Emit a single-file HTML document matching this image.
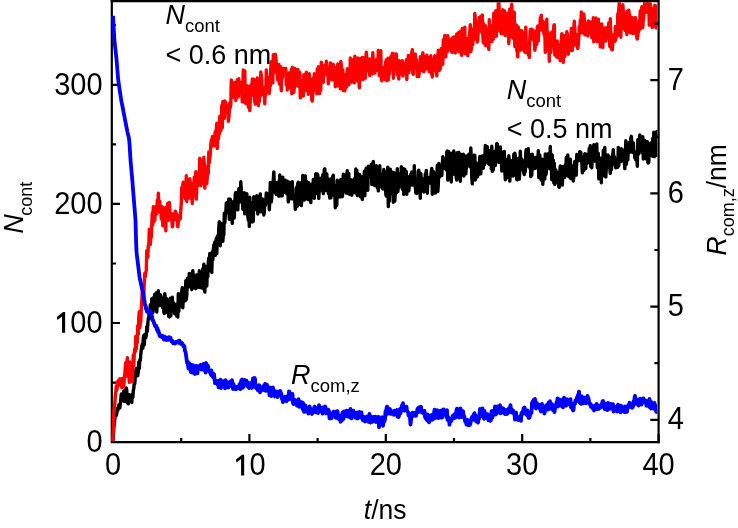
<!DOCTYPE html>
<html><head><meta charset="utf-8"><style>
html,body{margin:0;padding:0;background:#fff;width:738px;height:528px;overflow:hidden}
svg{display:block;font-family:"Liberation Sans",sans-serif;will-change:transform}
</style></head><body>
<svg width="738" height="528" viewBox="0 0 738 528">
<path d="M111.8 0 V442.1 H659.7 M111.8 442.1 H120 M111.8 323.0 H120 M111.8 203.9 H120 M111.8 84.8 H120 M111.8 382.6 H116 M111.8 263.5 H116 M111.8 144.4 H116 M111.8 25.2 H116 M113.0 442.1 V434 M249.4 442.1 V434 M385.8 442.1 V434 M522.2 442.1 V434 M658.6 442.1 V434 M181.2 442.1 V438 M317.6 442.1 V438 M454.0 442.1 V438 M590.4 442.1 V438" stroke="#000" stroke-width="2.2" fill="none"/>
<defs><clipPath id="pc"><rect x="109" y="2.2" width="548.3" height="439"/></clipPath></defs><g clip-path="url(#pc)">
<path d="M111.8 441.9 L112.3 441.5 L112.8 441.8 L113.3 435.0 L113.8 427.9 L114.3 423.7 L114.8 419.0 L115.3 415.9 L115.8 414.9 L116.3 415.5 L116.8 413.1 L117.3 408.2 L117.8 410.2 L118.3 408.3 L118.8 405.0 L119.3 406.3 L119.8 407.9 L120.3 404.4 L120.8 399.3 L121.3 393.9 L121.8 395.3 L122.3 395.0 L122.8 400.9 L123.3 399.4 L123.8 391.0 L124.3 401.5 L124.8 394.0 L125.3 397.0 L125.8 389.0 L126.3 388.1 L126.8 390.8 L127.3 402.9 L127.8 400.3 L128.3 403.8 L128.8 398.0 L129.3 394.7 L129.8 397.1 L130.3 399.0 L130.8 400.6 L131.3 395.2 L131.8 402.5 L132.3 394.2 L132.8 397.7 L133.3 390.4 L133.8 388.5 L134.3 382.2 L134.8 383.7 L135.3 376.0 L135.8 370.4 L136.3 368.5 L136.8 376.0 L137.3 371.1 L137.8 375.5 L138.3 371.2 L138.8 361.9 L139.3 368.3 L139.8 359.9 L140.3 360.3 L140.8 354.2 L141.3 349.5 L141.8 346.3 L142.3 344.0 L142.8 348.3 L143.3 337.9 L143.8 335.6 L144.3 344.9 L144.8 334.5 L145.3 336.4 L145.8 337.7 L146.3 335.2 L146.8 326.7 L147.3 331.4 L147.8 323.6 L148.3 318.3 L148.8 317.5 L149.3 312.2 L149.8 318.1 L150.3 304.8 L150.8 310.6 L151.3 308.1 L151.8 298.8 L152.3 302.1 L152.8 312.7 L153.3 309.7 L153.8 297.2 L154.3 298.5 L154.8 294.1 L155.3 309.5 L155.8 295.4 L156.3 293.0 L156.8 312.0 L157.3 299.6 L157.8 298.6 L158.3 290.6 L158.8 299.9 L159.3 297.3 L159.8 305.6 L160.3 294.8 L160.8 295.7 L161.3 297.4 L161.8 301.1 L162.3 298.8 L162.8 307.6 L163.3 300.1 L163.8 311.7 L164.3 313.5 L164.8 293.6 L165.3 299.2 L165.8 307.8 L166.3 312.2 L166.8 298.6 L167.3 301.4 L167.8 304.7 L168.3 311.7 L168.8 316.6 L169.3 316.9 L169.8 311.5 L170.3 298.3 L170.8 315.8 L171.3 308.8 L171.8 298.1 L172.3 297.3 L172.8 305.4 L173.3 304.2 L173.8 303.0 L174.3 311.1 L174.8 313.9 L175.3 306.8 L175.8 312.9 L176.3 304.4 L176.8 316.3 L177.3 309.0 L177.8 317.0 L178.3 293.8 L178.8 311.4 L179.3 304.1 L179.8 305.8 L180.3 295.8 L180.8 299.8 L181.3 294.0 L181.8 290.7 L182.3 287.8 L182.8 307.7 L183.3 298.1 L183.8 288.1 L184.3 288.0 L184.8 292.2 L185.3 300.8 L185.8 280.6 L186.3 299.5 L186.8 295.0 L187.3 278.4 L187.8 287.4 L188.3 278.9 L188.8 287.0 L189.3 273.4 L189.8 281.6 L190.3 284.2 L190.8 283.1 L191.3 284.9 L191.8 289.5 L192.3 274.7 L192.8 270.7 L193.3 279.1 L193.8 282.0 L194.3 287.8 L194.8 283.1 L195.3 286.5 L195.8 288.7 L196.3 274.9 L196.8 275.1 L197.3 278.7 L197.8 274.9 L198.3 282.5 L198.8 287.4 L199.3 270.7 L199.8 282.4 L200.3 280.6 L200.8 277.6 L201.3 287.9 L201.8 282.8 L202.3 288.0 L202.8 268.6 L203.3 271.7 L203.8 264.3 L204.3 288.8 L204.8 292.1 L205.3 266.1 L205.8 286.7 L206.3 282.0 L206.8 285.9 L207.3 270.2 L207.8 276.6 L208.3 262.4 L208.8 257.9 L209.3 270.8 L209.8 253.4 L210.3 267.7 L210.8 256.7 L211.3 263.8 L211.8 272.5 L212.3 251.7 L212.8 259.8 L213.3 250.1 L213.8 244.8 L214.3 249.7 L214.8 242.0 L215.3 255.3 L215.8 247.9 L216.3 238.3 L216.8 253.6 L217.3 236.2 L217.8 239.8 L218.3 238.9 L218.8 228.0 L219.3 221.7 L219.8 242.9 L220.3 245.8 L220.8 224.5 L221.3 223.6 L221.8 230.7 L222.3 230.6 L222.8 241.3 L223.3 235.0 L223.8 234.9 L224.3 213.3 L224.8 222.9 L225.3 215.1 L225.8 213.0 L226.3 203.0 L226.8 207.3 L227.3 211.6 L227.8 202.1 L228.3 207.1 L228.8 198.9 L229.3 219.3 L229.8 208.4 L230.3 199.2 L230.8 206.7 L231.3 208.9 L231.8 217.5 L232.3 223.4 L232.8 202.3 L233.3 208.5 L233.8 201.1 L234.3 218.0 L234.8 203.7 L235.3 193.8 L235.8 192.5 L236.3 196.9 L236.8 197.7 L237.3 199.0 L237.8 209.9 L238.3 196.9 L238.8 188.8 L239.3 195.7 L239.8 188.0 L240.3 201.9 L240.8 181.8 L241.3 190.7 L241.8 195.2 L242.3 194.0 L242.8 209.2 L243.3 194.6 L243.8 198.2 L244.3 192.6 L244.8 213.9 L245.3 206.4 L245.8 213.5 L246.3 201.2 L246.8 193.6 L247.3 201.9 L247.8 215.9 L248.3 220.1 L248.8 202.1 L249.3 226.4 L249.8 197.1 L250.3 211.4 L250.8 207.8 L251.3 207.8 L251.8 202.7 L252.3 222.0 L252.8 203.7 L253.3 221.2 L253.8 196.7 L254.3 207.0 L254.8 203.2 L255.3 209.6 L255.8 205.4 L256.3 207.0 L256.8 195.8 L257.3 200.3 L257.8 214.0 L258.3 198.8 L258.8 203.2 L259.3 200.4 L259.8 196.5 L260.3 194.0 L260.8 211.9 L261.3 209.7 L261.8 199.0 L262.3 198.9 L262.8 211.2 L263.3 205.4 L263.8 215.0 L264.3 212.1 L264.8 199.9 L265.3 205.5 L265.8 201.2 L266.3 193.0 L266.8 198.6 L267.3 202.9 L267.8 193.9 L268.3 196.7 L268.8 193.6 L269.3 209.7 L269.8 201.4 L270.3 182.4 L270.8 201.5 L271.3 201.8 L271.8 197.3 L272.3 183.5 L272.8 186.3 L273.3 180.1 L273.8 171.9 L274.3 184.8 L274.8 191.8 L275.3 192.9 L275.8 189.3 L276.3 194.6 L276.8 187.5 L277.3 182.5 L277.8 190.1 L278.3 182.6 L278.8 196.3 L279.3 184.1 L279.8 175.0 L280.3 194.6 L280.8 178.1 L281.3 195.9 L281.8 186.2 L282.3 195.8 L282.8 177.2 L283.3 188.2 L283.8 188.9 L284.3 182.6 L284.8 192.3 L285.3 180.2 L285.8 186.7 L286.3 190.0 L286.8 193.9 L287.3 181.3 L287.8 188.4 L288.3 201.9 L288.8 199.2 L289.3 193.2 L289.8 182.1 L290.3 194.5 L290.8 187.8 L291.3 188.1 L291.8 198.9 L292.3 181.7 L292.8 197.9 L293.3 195.9 L293.8 198.3 L294.3 199.3 L294.8 201.0 L295.3 209.3 L295.8 207.1 L296.3 188.1 L296.8 187.0 L297.3 206.3 L297.8 183.4 L298.3 182.2 L298.8 202.0 L299.3 204.3 L299.8 203.1 L300.3 188.9 L300.8 182.9 L301.3 205.5 L301.8 199.8 L302.3 193.6 L302.8 175.5 L303.3 180.4 L303.8 176.9 L304.3 200.0 L304.8 179.2 L305.3 176.0 L305.8 185.9 L306.3 181.3 L306.8 191.6 L307.3 198.7 L307.8 199.4 L308.3 182.4 L308.8 199.8 L309.3 186.0 L309.8 191.8 L310.3 184.2 L310.8 202.6 L311.3 184.5 L311.8 194.8 L312.3 191.5 L312.8 193.9 L313.3 179.4 L313.8 187.2 L314.3 198.3 L314.8 186.7 L315.3 181.0 L315.8 173.8 L316.3 182.3 L316.8 193.2 L317.3 173.9 L317.8 175.1 L318.3 190.8 L318.8 198.4 L319.3 184.9 L319.8 191.2 L320.3 180.5 L320.8 178.3 L321.3 187.1 L321.8 177.8 L322.3 183.8 L322.8 174.6 L323.3 193.6 L323.8 183.3 L324.3 169.4 L324.8 168.9 L325.3 190.5 L325.8 183.4 L326.3 177.4 L326.8 174.0 L327.3 189.7 L327.8 187.5 L328.3 193.3 L328.8 179.2 L329.3 193.7 L329.8 198.0 L330.3 197.9 L330.8 197.9 L331.3 189.5 L331.8 178.3 L332.3 195.1 L332.8 176.3 L333.3 175.3 L333.8 189.8 L334.3 185.1 L334.8 192.9 L335.3 207.7 L335.8 185.8 L336.3 200.7 L336.8 205.2 L337.3 180.1 L337.8 188.9 L338.3 195.5 L338.8 196.7 L339.3 181.5 L339.8 197.0 L340.3 183.6 L340.8 179.5 L341.3 189.2 L341.8 188.8 L342.3 196.7 L342.8 191.9 L343.3 174.3 L343.8 191.1 L344.3 179.6 L344.8 189.5 L345.3 174.9 L345.8 184.8 L346.3 193.1 L346.8 174.1 L347.3 170.7 L347.8 193.4 L348.3 192.8 L348.8 173.4 L349.3 194.3 L349.8 179.2 L350.3 183.1 L350.8 182.3 L351.3 179.9 L351.8 195.3 L352.3 183.6 L352.8 190.9 L353.3 184.3 L353.8 192.6 L354.3 178.7 L354.8 181.0 L355.3 185.3 L355.8 169.0 L356.3 193.2 L356.8 170.1 L357.3 195.5 L357.8 173.3 L358.3 190.9 L358.8 190.0 L359.3 185.8 L359.8 174.8 L360.3 196.7 L360.8 180.3 L361.3 181.3 L361.8 189.9 L362.3 199.5 L362.8 176.4 L363.3 180.7 L363.8 188.0 L364.3 171.3 L364.8 195.7 L365.3 182.7 L365.8 169.7 L366.3 168.2 L366.8 168.2 L367.3 182.1 L367.8 190.2 L368.3 166.3 L368.8 169.5 L369.3 171.4 L369.8 176.1 L370.3 172.4 L370.8 172.9 L371.3 164.3 L371.8 184.4 L372.3 173.0 L372.8 184.3 L373.3 161.4 L373.8 172.4 L374.3 171.0 L374.8 185.6 L375.3 182.9 L375.8 177.3 L376.3 165.8 L376.8 181.2 L377.3 187.6 L377.8 184.8 L378.3 190.9 L378.8 178.0 L379.3 173.9 L379.8 165.7 L380.3 186.4 L380.8 184.4 L381.3 182.4 L381.8 187.3 L382.3 173.9 L382.8 189.0 L383.3 183.9 L383.8 169.4 L384.3 181.6 L384.8 182.8 L385.3 172.0 L385.8 194.0 L386.3 196.1 L386.8 174.6 L387.3 177.9 L387.8 167.1 L388.3 206.6 L388.8 180.6 L389.3 201.2 L389.8 188.2 L390.3 169.1 L390.8 176.8 L391.3 178.5 L391.8 193.5 L392.3 175.8 L392.8 172.3 L393.3 202.2 L393.8 188.1 L394.3 173.0 L394.8 201.1 L395.3 192.4 L395.8 183.3 L396.3 173.9 L396.8 192.4 L397.3 168.8 L397.8 191.7 L398.3 187.5 L398.8 184.9 L399.3 184.3 L399.8 183.5 L400.3 173.5 L400.8 186.3 L401.3 166.7 L401.8 184.6 L402.3 189.1 L402.8 172.1 L403.3 168.8 L403.8 194.4 L404.3 191.3 L404.8 169.1 L405.3 184.8 L405.8 173.8 L406.3 171.7 L406.8 194.2 L407.3 183.6 L407.8 186.8 L408.3 176.7 L408.8 190.8 L409.3 185.2 L409.8 179.2 L410.3 180.7 L410.8 174.3 L411.3 184.8 L411.8 171.9 L412.3 177.7 L412.8 185.1 L413.3 184.2 L413.8 181.2 L414.3 165.6 L414.8 185.3 L415.3 185.6 L415.8 193.0 L416.3 192.7 L416.8 193.4 L417.3 180.4 L417.8 185.7 L418.3 171.5 L418.8 170.3 L419.3 191.4 L419.8 189.9 L420.3 198.2 L420.8 173.4 L421.3 179.0 L421.8 190.2 L422.3 183.4 L422.8 190.7 L423.3 178.9 L423.8 192.0 L424.3 189.7 L424.8 191.2 L425.3 173.7 L425.8 189.3 L426.3 170.4 L426.8 178.5 L427.3 193.2 L427.8 183.0 L428.3 183.7 L428.8 177.8 L429.3 180.1 L429.8 180.0 L430.3 183.1 L430.8 177.5 L431.3 171.8 L431.8 168.4 L432.3 194.2 L432.8 181.9 L433.3 171.5 L433.8 173.3 L434.3 181.8 L434.8 173.0 L435.3 193.1 L435.8 182.5 L436.3 187.0 L436.8 181.7 L437.3 165.3 L437.8 191.5 L438.3 185.2 L438.8 163.4 L439.3 177.4 L439.8 175.8 L440.3 169.5 L440.8 170.8 L441.3 166.8 L441.8 175.5 L442.3 164.9 L442.8 156.6 L443.3 164.8 L443.8 158.6 L444.3 168.3 L444.8 168.0 L445.3 162.8 L445.8 162.0 L446.3 169.8 L446.8 151.8 L447.3 151.0 L447.8 180.1 L448.3 159.4 L448.8 151.6 L449.3 171.1 L449.8 178.7 L450.3 155.8 L450.8 164.4 L451.3 182.0 L451.8 153.3 L452.3 155.8 L452.8 168.6 L453.3 174.3 L453.8 151.0 L454.3 163.6 L454.8 169.7 L455.3 167.7 L455.8 166.6 L456.3 178.2 L456.8 179.9 L457.3 152.8 L457.8 156.5 L458.3 162.1 L458.8 152.5 L459.3 153.9 L459.8 167.1 L460.3 181.2 L460.8 159.1 L461.3 154.4 L461.8 169.2 L462.3 158.5 L462.8 154.7 L463.3 154.3 L463.8 176.0 L464.3 155.5 L464.8 172.7 L465.3 164.7 L465.8 173.9 L466.3 166.8 L466.8 157.3 L467.3 157.1 L467.8 155.5 L468.3 158.6 L468.8 154.1 L469.3 159.6 L469.8 166.7 L470.3 161.4 L470.8 148.0 L471.3 159.3 L471.8 177.3 L472.3 183.9 L472.8 159.8 L473.3 157.2 L473.8 158.9 L474.3 155.2 L474.8 155.2 L475.3 180.0 L475.8 176.3 L476.3 162.9 L476.8 167.5 L477.3 177.0 L477.8 174.5 L478.3 174.8 L478.8 171.7 L479.3 168.1 L479.8 156.5 L480.3 168.5 L480.8 173.8 L481.3 156.4 L481.8 156.0 L482.3 167.0 L482.8 158.2 L483.3 168.2 L483.8 155.6 L484.3 164.9 L484.8 163.3 L485.3 145.5 L485.8 149.8 L486.3 156.5 L486.8 150.4 L487.3 146.6 L487.8 154.1 L488.3 163.6 L488.8 150.5 L489.3 164.4 L489.8 158.2 L490.3 159.2 L490.8 150.2 L491.3 168.9 L491.8 146.2 L492.3 171.4 L492.8 156.3 L493.3 169.9 L493.8 153.9 L494.3 151.7 L494.8 151.2 L495.3 165.5 L495.8 155.3 L496.3 151.1 L496.8 143.5 L497.3 144.1 L497.8 151.3 L498.3 151.8 L498.8 162.4 L499.3 148.4 L499.8 156.1 L500.3 146.9 L500.8 152.9 L501.3 159.0 L501.8 171.0 L502.3 152.5 L502.8 154.9 L503.3 169.3 L503.8 160.2 L504.3 151.4 L504.8 170.0 L505.3 179.7 L505.8 171.4 L506.3 178.4 L506.8 172.3 L507.3 159.1 L507.8 172.7 L508.3 167.7 L508.8 155.7 L509.3 161.8 L509.8 181.1 L510.3 171.0 L510.8 166.7 L511.3 176.0 L511.8 174.6 L512.3 160.4 L512.8 167.4 L513.3 176.0 L513.8 154.2 L514.3 169.9 L514.8 153.1 L515.3 156.1 L515.8 174.8 L516.3 166.1 L516.8 179.7 L517.3 179.8 L517.8 173.3 L518.3 158.5 L518.8 171.2 L519.3 179.1 L519.8 170.6 L520.3 151.3 L520.8 161.7 L521.3 159.7 L521.8 159.4 L522.3 160.3 L522.8 169.8 L523.3 163.1 L523.8 172.9 L524.3 174.6 L524.8 171.6 L525.3 171.4 L525.8 152.2 L526.3 149.7 L526.8 149.8 L527.3 162.3 L527.8 158.5 L528.3 148.7 L528.8 167.0 L529.3 158.8 L529.8 154.4 L530.3 163.7 L530.8 176.6 L531.3 170.0 L531.8 175.1 L532.3 154.1 L532.8 169.3 L533.3 158.2 L533.8 157.7 L534.3 160.7 L534.8 160.8 L535.3 168.4 L535.8 157.4 L536.3 159.4 L536.8 160.1 L537.3 166.9 L537.8 162.1 L538.3 150.8 L538.8 177.6 L539.3 172.4 L539.8 154.9 L540.3 166.9 L540.8 178.8 L541.3 180.0 L541.8 166.9 L542.3 159.1 L542.8 184.2 L543.3 176.4 L543.8 174.2 L544.3 165.5 L544.8 179.0 L545.3 153.9 L545.8 174.8 L546.3 172.4 L546.8 162.3 L547.3 154.3 L547.8 167.9 L548.3 158.2 L548.8 153.4 L549.3 153.8 L549.8 168.8 L550.3 146.4 L550.8 163.5 L551.3 162.7 L551.8 179.7 L552.3 155.0 L552.8 168.1 L553.3 160.1 L553.8 182.8 L554.3 163.3 L554.8 184.4 L555.3 178.9 L555.8 170.0 L556.3 172.1 L556.8 172.3 L557.3 176.7 L557.8 182.0 L558.3 177.3 L558.8 186.8 L559.3 187.3 L559.8 171.5 L560.3 165.9 L560.8 179.2 L561.3 172.7 L561.8 166.6 L562.3 185.1 L562.8 174.7 L563.3 166.8 L563.8 169.4 L564.3 171.2 L564.8 177.2 L565.3 165.0 L565.8 170.8 L566.3 157.4 L566.8 175.4 L567.3 174.2 L567.8 155.0 L568.3 174.2 L568.8 176.8 L569.3 174.2 L569.8 175.7 L570.3 159.1 L570.8 178.6 L571.3 165.6 L571.8 176.7 L572.3 176.9 L572.8 172.0 L573.3 181.0 L573.8 176.7 L574.3 165.1 L574.8 161.4 L575.3 173.7 L575.8 164.3 L576.3 175.1 L576.8 154.5 L577.3 155.8 L577.8 159.4 L578.3 155.2 L578.8 160.7 L579.3 155.0 L579.8 151.7 L580.3 157.1 L580.8 152.3 L581.3 158.7 L581.8 161.4 L582.3 172.8 L582.8 163.1 L583.3 161.1 L583.8 170.6 L584.3 161.1 L584.8 153.8 L585.3 162.3 L585.8 168.5 L586.3 154.1 L586.8 163.7 L587.3 159.4 L587.8 159.8 L588.3 162.5 L588.8 156.8 L589.3 148.2 L589.8 148.4 L590.3 145.7 L590.8 166.7 L591.3 160.0 L591.8 167.8 L592.3 150.2 L592.8 157.4 L593.3 156.7 L593.8 144.6 L594.3 158.9 L594.8 161.2 L595.3 154.6 L595.8 154.1 L596.3 156.8 L596.8 143.9 L597.3 167.5 L597.8 155.8 L598.3 153.4 L598.8 178.9 L599.3 175.4 L599.8 166.2 L600.3 165.0 L600.8 158.2 L601.3 182.8 L601.8 162.5 L602.3 176.3 L602.8 173.1 L603.3 150.3 L603.8 154.2 L604.3 160.6 L604.8 147.4 L605.3 176.4 L605.8 177.0 L606.3 167.3 L606.8 158.8 L607.3 159.6 L607.8 154.9 L608.3 163.5 L608.8 156.1 L609.3 157.4 L609.8 168.6 L610.3 173.3 L610.8 164.8 L611.3 169.8 L611.8 166.3 L612.3 158.1 L612.8 154.1 L613.3 149.7 L613.8 161.4 L614.3 156.5 L614.8 164.4 L615.3 158.8 L615.8 167.8 L616.3 165.9 L616.8 163.4 L617.3 164.9 L617.8 167.3 L618.3 147.4 L618.8 165.8 L619.3 149.8 L619.8 161.1 L620.3 155.1 L620.8 161.6 L621.3 148.7 L621.8 160.0 L622.3 160.8 L622.8 149.9 L623.3 157.0 L623.8 155.1 L624.3 161.1 L624.8 168.6 L625.3 158.9 L625.8 140.8 L626.3 164.3 L626.8 157.7 L627.3 147.1 L627.8 160.0 L628.3 149.0 L628.8 142.6 L629.3 148.2 L629.8 152.1 L630.3 142.4 L630.8 138.4 L631.3 136.3 L631.8 142.9 L632.3 152.2 L632.8 143.9 L633.3 142.7 L633.8 152.6 L634.3 151.4 L634.8 157.9 L635.3 157.4 L635.8 159.8 L636.3 152.7 L636.8 156.8 L637.3 166.2 L637.8 139.7 L638.3 149.1 L638.8 153.9 L639.3 141.2 L639.8 134.9 L640.3 144.7 L640.8 138.0 L641.3 140.4 L641.8 139.5 L642.3 152.8 L642.8 136.8 L643.3 159.0 L643.8 154.6 L644.3 150.7 L644.8 140.4 L645.3 151.1 L645.8 145.3 L646.3 159.0 L646.8 152.5 L647.3 141.6 L647.8 162.2 L648.3 163.0 L648.8 162.1 L649.3 144.3 L649.8 151.3 L650.3 154.5 L650.8 143.0 L651.3 148.6 L651.8 148.5 L652.3 156.1 L652.8 138.2 L653.3 156.4 L653.8 132.2 L654.3 156.8 L654.8 144.0 L655.3 133.2 L655.8 135.4 L656.3 155.3 L656.8 131.4 L657.3 143.4 L657.8 144.5" stroke="#000" stroke-width="3.4" fill="none" stroke-linejoin="round"/>
<path d="M111.8 442.0 L112.3 441.8 L112.8 440.6 L113.3 429.3 L113.8 413.3 L114.3 406.8 L114.8 403.9 L115.3 395.6 L115.8 392.6 L116.3 386.0 L116.8 390.4 L117.3 386.3 L117.8 381.1 L118.3 385.7 L118.8 380.0 L119.3 383.5 L119.8 378.6 L120.3 384.8 L120.8 379.9 L121.3 380.7 L121.8 387.7 L122.3 378.5 L122.8 379.2 L123.3 386.9 L123.8 386.4 L124.3 378.6 L124.8 374.6 L125.3 367.2 L125.8 362.4 L126.3 376.3 L126.8 365.0 L127.3 357.8 L127.8 369.4 L128.3 374.4 L128.8 371.4 L129.3 382.4 L129.8 362.0 L130.3 376.4 L130.8 371.8 L131.3 363.7 L131.8 377.4 L132.3 381.5 L132.8 369.0 L133.3 354.9 L133.8 365.5 L134.3 352.6 L134.8 348.7 L135.3 351.8 L135.8 336.1 L136.3 348.7 L136.8 342.2 L137.3 342.8 L137.8 325.4 L138.3 334.1 L138.8 317.6 L139.3 311.6 L139.8 327.7 L140.3 323.4 L140.8 321.4 L141.3 308.2 L141.8 300.8 L142.3 289.9 L142.8 300.8 L143.3 299.5 L143.8 297.0 L144.3 281.6 L144.8 273.1 L145.3 276.8 L145.8 273.0 L146.3 269.9 L146.8 250.6 L147.3 252.4 L147.8 257.2 L148.3 245.4 L148.8 245.5 L149.3 229.1 L149.8 241.0 L150.3 244.5 L150.8 238.1 L151.3 237.1 L151.8 224.0 L152.3 212.8 L152.8 225.0 L153.3 206.7 L153.8 221.5 L154.3 207.2 L154.8 220.5 L155.3 206.8 L155.8 209.6 L156.3 207.0 L156.8 214.0 L157.3 200.2 L157.8 208.3 L158.3 193.3 L158.8 204.1 L159.3 207.7 L159.8 201.2 L160.3 212.6 L160.8 209.3 L161.3 219.0 L161.8 214.9 L162.3 206.7 L162.8 225.8 L163.3 214.8 L163.8 223.1 L164.3 213.7 L164.8 221.2 L165.3 207.6 L165.8 230.8 L166.3 207.5 L166.8 209.5 L167.3 206.1 L167.8 203.3 L168.3 220.3 L168.8 212.6 L169.3 202.4 L169.8 208.9 L170.3 216.4 L170.8 219.5 L171.3 213.1 L171.8 219.2 L172.3 226.8 L172.8 225.6 L173.3 216.4 L173.8 219.6 L174.3 219.7 L174.8 212.6 L175.3 211.3 L175.8 211.9 L176.3 213.5 L176.8 215.2 L177.3 218.1 L177.8 226.7 L178.3 222.2 L178.8 219.1 L179.3 217.9 L179.8 215.0 L180.3 219.0 L180.8 209.9 L181.3 203.5 L181.8 187.2 L182.3 194.9 L182.8 184.6 L183.3 182.2 L183.8 191.1 L184.3 196.4 L184.8 183.9 L185.3 199.0 L185.8 193.4 L186.3 175.8 L186.8 201.5 L187.3 183.8 L187.8 182.6 L188.3 198.0 L188.8 179.2 L189.3 195.5 L189.8 178.7 L190.3 185.4 L190.8 182.8 L191.3 198.9 L191.8 188.9 L192.3 203.5 L192.8 188.6 L193.3 192.5 L193.8 184.1 L194.3 177.0 L194.8 182.6 L195.3 196.3 L195.8 171.6 L196.3 199.1 L196.8 187.2 L197.3 174.3 L197.8 185.5 L198.3 175.4 L198.8 173.1 L199.3 175.6 L199.8 158.3 L200.3 171.3 L200.8 185.6 L201.3 160.6 L201.8 175.9 L202.3 170.0 L202.8 159.8 L203.3 183.8 L203.8 157.2 L204.3 164.2 L204.8 188.1 L205.3 168.3 L205.8 183.2 L206.3 178.0 L206.8 183.6 L207.3 175.9 L207.8 165.5 L208.3 173.5 L208.8 151.9 L209.3 162.9 L209.8 157.5 L210.3 154.3 L210.8 144.4 L211.3 140.5 L211.8 146.2 L212.3 136.5 L212.8 142.7 L213.3 138.0 L213.8 144.3 L214.3 145.8 L214.8 136.5 L215.3 131.4 L215.8 144.0 L216.3 129.4 L216.8 123.3 L217.3 148.5 L217.8 133.2 L218.3 139.3 L218.8 135.2 L219.3 133.6 L219.8 116.3 L220.3 122.9 L220.8 131.0 L221.3 123.7 L221.8 105.4 L222.3 127.7 L222.8 101.5 L223.3 116.1 L223.8 103.8 L224.3 118.4 L224.8 100.9 L225.3 102.6 L225.8 102.3 L226.3 105.3 L226.8 105.2 L227.3 112.3 L227.8 109.7 L228.3 121.3 L228.8 118.4 L229.3 110.9 L229.8 102.7 L230.3 107.8 L230.8 104.4 L231.3 80.0 L231.8 82.4 L232.3 91.7 L232.8 83.8 L233.3 97.3 L233.8 86.7 L234.3 82.8 L234.8 89.9 L235.3 82.4 L235.8 100.5 L236.3 97.7 L236.8 95.0 L237.3 79.8 L237.8 90.4 L238.3 96.7 L238.8 78.7 L239.3 90.5 L239.8 81.9 L240.3 83.4 L240.8 85.1 L241.3 91.8 L241.8 93.8 L242.3 101.9 L242.8 86.7 L243.3 70.0 L243.8 95.3 L244.3 72.2 L244.8 70.8 L245.3 103.2 L245.8 103.3 L246.3 92.0 L246.8 85.6 L247.3 97.4 L247.8 94.1 L248.3 107.3 L248.8 95.7 L249.3 86.3 L249.8 110.6 L250.3 98.5 L250.8 88.7 L251.3 84.4 L251.8 95.0 L252.3 79.0 L252.8 95.1 L253.3 94.7 L253.8 79.2 L254.3 97.4 L254.8 102.1 L255.3 104.1 L255.8 95.2 L256.3 98.1 L256.8 81.0 L257.3 77.9 L257.8 82.0 L258.3 105.4 L258.8 93.1 L259.3 101.7 L259.8 85.8 L260.3 96.2 L260.8 72.0 L261.3 75.4 L261.8 81.6 L262.3 94.6 L262.8 87.5 L263.3 92.5 L263.8 88.1 L264.3 93.4 L264.8 103.8 L265.3 87.3 L265.8 95.1 L266.3 70.0 L266.8 77.8 L267.3 88.7 L267.8 88.7 L268.3 77.5 L268.8 81.5 L269.3 93.4 L269.8 86.7 L270.3 86.0 L270.8 68.9 L271.3 61.7 L271.8 69.1 L272.3 61.7 L272.8 82.9 L273.3 54.6 L273.8 64.6 L274.3 56.7 L274.8 72.3 L275.3 54.2 L275.8 57.4 L276.3 63.1 L276.8 64.3 L277.3 74.9 L277.8 80.1 L278.3 70.4 L278.8 64.4 L279.3 84.0 L279.8 79.5 L280.3 66.5 L280.8 84.4 L281.3 90.7 L281.8 68.4 L282.3 77.9 L282.8 71.6 L283.3 68.3 L283.8 74.5 L284.3 74.6 L284.8 73.1 L285.3 74.8 L285.8 68.5 L286.3 84.8 L286.8 73.0 L287.3 90.0 L287.8 79.3 L288.3 73.1 L288.8 73.0 L289.3 80.8 L289.8 79.6 L290.3 87.7 L290.8 86.1 L291.3 69.5 L291.8 93.7 L292.3 67.3 L292.8 89.5 L293.3 90.3 L293.8 92.4 L294.3 87.4 L294.8 68.5 L295.3 80.5 L295.8 77.0 L296.3 84.8 L296.8 78.1 L297.3 85.6 L297.8 69.4 L298.3 78.9 L298.8 86.7 L299.3 83.8 L299.8 72.4 L300.3 97.9 L300.8 88.3 L301.3 94.4 L301.8 80.8 L302.3 94.4 L302.8 87.9 L303.3 96.0 L303.8 74.6 L304.3 76.7 L304.8 79.4 L305.3 90.5 L305.8 76.9 L306.3 72.3 L306.8 82.8 L307.3 88.5 L307.8 76.0 L308.3 94.2 L308.8 79.2 L309.3 73.8 L309.8 91.8 L310.3 78.7 L310.8 79.7 L311.3 81.2 L311.8 100.2 L312.3 101.0 L312.8 94.4 L313.3 78.0 L313.8 90.1 L314.3 73.7 L314.8 76.9 L315.3 80.7 L315.8 78.7 L316.3 76.3 L316.8 93.7 L317.3 68.9 L317.8 87.4 L318.3 66.8 L318.8 67.8 L319.3 71.8 L319.8 93.5 L320.3 86.5 L320.8 89.6 L321.3 62.2 L321.8 79.9 L322.3 71.6 L322.8 69.3 L323.3 82.3 L323.8 66.4 L324.3 70.0 L324.8 65.1 L325.3 68.8 L325.8 74.6 L326.3 61.2 L326.8 67.2 L327.3 70.9 L327.8 73.1 L328.3 83.7 L328.8 79.7 L329.3 74.8 L329.8 79.3 L330.3 63.0 L330.8 63.3 L331.3 77.1 L331.8 67.4 L332.3 79.7 L332.8 77.2 L333.3 64.4 L333.8 79.8 L334.3 72.2 L334.8 71.8 L335.3 86.7 L335.8 82.2 L336.3 67.2 L336.8 67.3 L337.3 85.7 L337.8 63.9 L338.3 80.1 L338.8 67.7 L339.3 71.6 L339.8 77.2 L340.3 88.7 L340.8 61.5 L341.3 65.1 L341.8 82.3 L342.3 76.0 L342.8 69.8 L343.3 90.5 L343.8 74.3 L344.3 86.3 L344.8 90.7 L345.3 87.4 L345.8 83.7 L346.3 87.3 L346.8 84.0 L347.3 68.8 L347.8 80.0 L348.3 79.5 L348.8 84.9 L349.3 81.4 L349.8 82.7 L350.3 58.0 L350.8 66.8 L351.3 69.9 L351.8 82.0 L352.3 66.3 L352.8 65.9 L353.3 59.5 L353.8 68.0 L354.3 82.7 L354.8 56.3 L355.3 63.8 L355.8 66.2 L356.3 67.6 L356.8 65.5 L357.3 80.7 L357.8 57.9 L358.3 66.7 L358.8 75.6 L359.3 87.8 L359.8 82.1 L360.3 58.8 L360.8 79.4 L361.3 74.1 L361.8 67.9 L362.3 57.5 L362.8 57.4 L363.3 79.4 L363.8 61.8 L364.3 65.7 L364.8 62.6 L365.3 78.1 L365.8 60.9 L366.3 52.2 L366.8 58.7 L367.3 59.5 L367.8 71.1 L368.3 58.8 L368.8 70.5 L369.3 66.5 L369.8 75.6 L370.3 68.1 L370.8 59.0 L371.3 63.1 L371.8 58.8 L372.3 73.8 L372.8 52.7 L373.3 61.5 L373.8 64.5 L374.3 60.7 L374.8 73.0 L375.3 66.9 L375.8 60.8 L376.3 69.5 L376.8 59.1 L377.3 65.4 L377.8 70.7 L378.3 50.5 L378.8 56.6 L379.3 75.6 L379.8 75.9 L380.3 74.2 L380.8 50.6 L381.3 76.0 L381.8 80.7 L382.3 77.5 L382.8 75.2 L383.3 74.2 L383.8 71.8 L384.3 67.2 L384.8 79.4 L385.3 66.6 L385.8 61.8 L386.3 60.0 L386.8 80.7 L387.3 74.7 L387.8 58.3 L388.3 79.9 L388.8 59.2 L389.3 74.2 L389.8 64.8 L390.3 59.6 L390.8 56.8 L391.3 57.1 L391.8 57.1 L392.3 53.4 L392.8 60.6 L393.3 78.2 L393.8 68.1 L394.3 54.0 L394.8 66.4 L395.3 67.5 L395.8 63.0 L396.3 53.9 L396.8 63.4 L397.3 74.9 L397.8 62.6 L398.3 67.0 L398.8 79.0 L399.3 60.7 L399.8 70.8 L400.3 66.2 L400.8 73.7 L401.3 64.3 L401.8 70.8 L402.3 60.6 L402.8 76.0 L403.3 73.6 L403.8 63.3 L404.3 73.9 L404.8 66.7 L405.3 70.6 L405.8 74.4 L406.3 59.7 L406.8 79.5 L407.3 62.9 L407.8 64.7 L408.3 55.5 L408.8 72.6 L409.3 59.4 L409.8 68.9 L410.3 56.1 L410.8 58.0 L411.3 55.0 L411.8 52.9 L412.3 49.7 L412.8 73.4 L413.3 74.2 L413.8 57.9 L414.3 58.3 L414.8 61.6 L415.3 54.0 L415.8 67.6 L416.3 59.5 L416.8 67.3 L417.3 76.6 L417.8 74.9 L418.3 75.8 L418.8 76.5 L419.3 70.6 L419.8 65.2 L420.3 56.7 L420.8 59.1 L421.3 68.7 L421.8 70.5 L422.3 62.6 L422.8 52.8 L423.3 56.3 L423.8 71.8 L424.3 57.0 L424.8 56.6 L425.3 57.0 L425.8 64.5 L426.3 69.0 L426.8 55.2 L427.3 60.8 L427.8 58.4 L428.3 57.6 L428.8 62.6 L429.3 71.9 L429.8 59.7 L430.3 62.6 L430.8 55.8 L431.3 67.1 L431.8 73.9 L432.3 77.0 L432.8 62.2 L433.3 59.2 L433.8 63.5 L434.3 61.2 L434.8 55.7 L435.3 61.9 L435.8 70.7 L436.3 72.6 L436.8 75.7 L437.3 60.7 L437.8 56.4 L438.3 50.3 L438.8 59.0 L439.3 70.4 L439.8 54.1 L440.3 68.7 L440.8 65.3 L441.3 48.5 L441.8 55.8 L442.3 61.3 L442.8 64.2 L443.3 39.7 L443.8 57.3 L444.3 55.4 L444.8 35.4 L445.3 36.9 L445.8 56.8 L446.3 38.8 L446.8 40.3 L447.3 51.7 L447.8 35.8 L448.3 42.2 L448.8 38.6 L449.3 49.0 L449.8 45.9 L450.3 47.3 L450.8 39.6 L451.3 51.4 L451.8 48.4 L452.3 52.4 L452.8 37.4 L453.3 45.5 L453.8 39.4 L454.3 37.1 L454.8 46.9 L455.3 52.8 L455.8 51.5 L456.3 36.5 L456.8 34.0 L457.3 46.0 L457.8 47.5 L458.3 49.2 L458.8 32.5 L459.3 51.8 L459.8 36.8 L460.3 31.4 L460.8 37.8 L461.3 53.5 L461.8 55.3 L462.3 28.5 L462.8 40.5 L463.3 49.2 L463.8 31.1 L464.3 31.1 L464.8 27.1 L465.3 53.8 L465.8 41.5 L466.3 38.3 L466.8 52.2 L467.3 40.9 L467.8 55.6 L468.3 38.9 L468.8 38.3 L469.3 37.0 L469.8 31.6 L470.3 24.6 L470.8 51.6 L471.3 48.8 L471.8 33.6 L472.3 40.7 L472.8 44.6 L473.3 28.6 L473.8 36.3 L474.3 38.0 L474.8 13.4 L475.3 18.7 L475.8 39.3 L476.3 39.2 L476.8 21.8 L477.3 42.0 L477.8 40.7 L478.3 28.9 L478.8 23.8 L479.3 17.5 L479.8 26.9 L480.3 16.7 L480.8 28.1 L481.3 30.5 L481.8 32.3 L482.3 14.9 L482.8 34.7 L483.3 42.4 L483.8 24.0 L484.3 31.8 L484.8 44.1 L485.3 25.6 L485.8 45.8 L486.3 42.9 L486.8 39.9 L487.3 41.5 L487.8 28.7 L488.3 39.1 L488.8 49.4 L489.3 19.6 L489.8 39.3 L490.3 25.9 L490.8 40.7 L491.3 33.8 L491.8 41.6 L492.3 28.2 L492.8 25.0 L493.3 39.1 L493.8 13.1 L494.3 14.2 L494.8 36.9 L495.3 32.7 L495.8 10.7 L496.3 36.3 L496.8 12.3 L497.3 30.0 L497.8 29.4 L498.3 3.0 L498.8 1.5 L499.3 13.4 L499.8 31.2 L500.3 30.8 L500.8 14.7 L501.3 33.6 L501.8 14.2 L502.3 12.2 L502.8 9.8 L503.3 33.1 L503.8 34.1 L504.3 21.3 L504.8 11.0 L505.3 35.5 L505.8 16.6 L506.3 13.8 L506.8 21.1 L507.3 32.5 L507.8 30.7 L508.3 13.1 L508.8 43.5 L509.3 31.4 L509.8 8.9 L510.3 34.5 L510.8 37.0 L511.3 35.7 L511.8 4.2 L512.3 23.8 L512.8 27.8 L513.3 38.3 L513.8 29.9 L514.3 12.2 L514.8 46.5 L515.3 44.6 L515.8 38.2 L516.3 24.9 L516.8 51.0 L517.3 50.8 L517.8 56.9 L518.3 27.0 L518.8 41.9 L519.3 36.0 L519.8 31.6 L520.3 50.2 L520.8 38.1 L521.3 30.5 L521.8 31.3 L522.3 48.8 L522.8 45.4 L523.3 34.2 L523.8 50.5 L524.3 32.9 L524.8 52.0 L525.3 52.3 L525.8 27.3 L526.3 44.6 L526.8 49.2 L527.3 46.0 L527.8 46.2 L528.3 54.7 L528.8 50.8 L529.3 57.4 L529.8 38.5 L530.3 29.5 L530.8 34.2 L531.3 37.0 L531.8 29.3 L532.3 29.8 L532.8 39.4 L533.3 30.8 L533.8 33.1 L534.3 40.2 L534.8 50.2 L535.3 46.6 L535.8 31.2 L536.3 43.8 L536.8 44.3 L537.3 27.4 L537.8 26.1 L538.3 40.8 L538.8 30.6 L539.3 28.3 L539.8 29.1 L540.3 17.7 L540.8 30.0 L541.3 15.1 L541.8 25.8 L542.3 24.1 L542.8 25.1 L543.3 21.8 L543.8 32.8 L544.3 35.3 L544.8 28.7 L545.3 52.4 L545.8 50.1 L546.3 28.6 L546.8 19.2 L547.3 49.0 L547.8 31.7 L548.3 37.0 L548.8 45.4 L549.3 61.2 L549.8 34.6 L550.3 41.1 L550.8 52.5 L551.3 47.2 L551.8 31.9 L552.3 44.0 L552.8 41.0 L553.3 41.6 L553.8 25.5 L554.3 24.9 L554.8 55.0 L555.3 52.6 L555.8 50.6 L556.3 56.3 L556.8 55.1 L557.3 41.0 L557.8 57.8 L558.3 51.1 L558.8 48.2 L559.3 54.7 L559.8 45.0 L560.3 60.8 L560.8 46.3 L561.3 43.3 L561.8 33.7 L562.3 51.0 L562.8 38.4 L563.3 62.4 L563.8 35.4 L564.3 40.2 L564.8 56.5 L565.3 42.9 L565.8 52.0 L566.3 52.8 L566.8 31.8 L567.3 33.5 L567.8 38.8 L568.3 54.2 L568.8 37.3 L569.3 45.8 L569.8 45.3 L570.3 38.3 L570.8 50.3 L571.3 28.4 L571.8 30.7 L572.3 50.5 L572.8 42.7 L573.3 35.2 L573.8 28.3 L574.3 21.2 L574.8 28.6 L575.3 45.0 L575.8 34.4 L576.3 34.8 L576.8 46.3 L577.3 42.7 L577.8 48.5 L578.3 44.2 L578.8 36.7 L579.3 26.5 L579.8 33.1 L580.3 20.2 L580.8 33.0 L581.3 12.0 L581.8 27.9 L582.3 32.6 L582.8 22.8 L583.3 31.4 L583.8 13.9 L584.3 18.9 L584.8 34.7 L585.3 27.9 L585.8 24.3 L586.3 23.7 L586.8 34.0 L587.3 34.0 L587.8 35.9 L588.3 21.0 L588.8 22.6 L589.3 32.3 L589.8 29.1 L590.3 33.6 L590.8 22.0 L591.3 26.3 L591.8 37.8 L592.3 23.3 L592.8 37.4 L593.3 17.7 L593.8 41.8 L594.3 18.6 L594.8 27.4 L595.3 39.5 L595.8 17.9 L596.3 23.4 L596.8 41.1 L597.3 41.7 L597.8 31.5 L598.3 19.2 L598.8 34.6 L599.3 23.5 L599.8 26.9 L600.3 46.9 L600.8 37.8 L601.3 34.5 L601.8 23.9 L602.3 32.7 L602.8 47.4 L603.3 31.1 L603.8 28.3 L604.3 37.8 L604.8 27.9 L605.3 35.7 L605.8 41.0 L606.3 27.6 L606.8 35.2 L607.3 38.0 L607.8 28.9 L608.3 27.7 L608.8 22.8 L609.3 34.8 L609.8 46.5 L610.3 18.8 L610.8 43.2 L611.3 48.9 L611.8 34.3 L612.3 49.9 L612.8 42.8 L613.3 35.7 L613.8 36.0 L614.3 36.7 L614.8 41.2 L615.3 26.5 L615.8 39.7 L616.3 29.1 L616.8 27.4 L617.3 35.9 L617.8 13.6 L618.3 15.1 L618.8 9.2 L619.3 2.8 L619.8 20.5 L620.3 20.1 L620.8 37.2 L621.3 19.8 L621.8 15.4 L622.3 29.0 L622.8 4.6 L623.3 12.0 L623.8 24.0 L624.3 12.4 L624.8 16.3 L625.3 30.8 L625.8 17.4 L626.3 16.5 L626.8 34.5 L627.3 11.2 L627.8 32.0 L628.3 14.4 L628.8 10.2 L629.3 16.3 L629.8 14.8 L630.3 32.9 L630.8 25.0 L631.3 23.7 L631.8 25.8 L632.3 17.7 L632.8 33.5 L633.3 20.8 L633.8 29.2 L634.3 24.3 L634.8 33.2 L635.3 17.5 L635.8 21.8 L636.3 21.1 L636.8 37.4 L637.3 39.0 L637.8 35.9 L638.3 23.4 L638.8 31.9 L639.3 26.6 L639.8 19.0 L640.3 10.6 L640.8 13.7 L641.3 28.3 L641.8 6.7 L642.3 17.4 L642.8 27.4 L643.3 18.5 L643.8 19.0 L644.3 6.0 L644.8 1.5 L645.3 1.5 L645.8 1.5 L646.3 1.5 L646.8 12.2 L647.3 8.1 L647.8 3.2 L648.3 7.1 L648.8 9.4 L649.3 25.1 L649.8 22.4 L650.3 3.7 L650.8 19.0 L651.3 7.7 L651.8 25.9 L652.3 27.5 L652.8 20.1 L653.3 21.7 L653.8 22.8 L654.3 26.0 L654.8 5.3 L655.3 5.7 L655.8 19.2 L656.3 28.0 L656.8 6.6 L657.3 13.6" stroke="#f00" stroke-width="3.4" fill="none" stroke-linejoin="round"/>
<path d="M113.0 15.8 L113.5 24.5 L114.0 33.4 L114.5 41.1 L115.0 45.5 L115.5 50.1 L116.0 54.7 L116.5 59.1 L117.0 65.3 L117.5 71.3 L118.0 77.6 L118.5 82.1 L119.0 85.4 L119.5 88.8 L120.0 92.2 L120.5 95.5 L121.0 98.6 L121.5 101.6 L122.0 104.1 L122.5 106.5 L123.0 108.9 L123.5 111.9 L124.0 114.3 L124.5 116.9 L125.0 119.7 L125.5 122.2 L126.0 124.7 L126.5 127.5 L127.0 129.6 L127.5 132.1 L128.0 134.2 L128.5 136.2 L129.0 138.7 L129.5 143.5 L130.0 151.4 L130.5 160.0 L131.0 165.4 L131.5 171.2 L132.0 176.7 L132.5 182.3 L133.0 189.0 L133.5 195.1 L134.0 201.3 L134.5 207.7 L135.0 213.7 L135.5 220.1 L136.0 239.0 L136.5 251.6 L137.0 256.2 L137.5 260.1 L138.0 264.3 L138.5 268.3 L139.0 272.6 L139.5 276.6 L140.0 279.6 L140.5 281.5 L141.0 284.0 L141.5 286.0 L142.0 288.7 L142.5 289.9 L143.0 291.7 L143.5 295.5 L144.0 298.4 L144.5 301.0 L145.0 305.2 L145.5 305.2 L146.0 309.1 L146.5 308.0 L147.0 311.7 L147.5 310.8 L148.0 311.7 L148.5 312.9 L149.0 312.9 L149.5 313.0 L150.0 310.7 L150.5 312.1 L151.0 312.8 L151.5 314.9 L152.0 316.2 L152.5 320.4 L153.0 320.0 L153.5 321.5 L154.0 322.8 L154.5 324.7 L155.0 326.2 L155.5 326.3 L156.0 325.4 L156.5 328.1 L157.0 330.0 L157.5 328.2 L158.0 331.9 L158.5 330.8 L159.0 333.3 L159.5 335.4 L160.0 336.1 L160.5 335.8 L161.0 336.3 L161.5 335.5 L162.0 337.3 L162.5 335.9 L163.0 337.6 L163.5 338.0 L164.0 339.6 L164.5 338.2 L165.0 336.8 L165.5 338.8 L166.0 337.7 L166.5 340.0 L167.0 338.2 L167.5 338.0 L168.0 339.9 L168.5 337.3 L169.0 337.2 L169.5 338.1 L170.0 338.8 L170.5 337.8 L171.0 339.9 L171.5 341.3 L172.0 340.5 L172.5 341.6 L173.0 343.0 L173.5 342.4 L174.0 342.3 L174.5 343.2 L175.0 343.5 L175.5 341.9 L176.0 342.7 L176.5 342.0 L177.0 341.9 L177.5 342.4 L178.0 341.3 L178.5 342.7 L179.0 342.5 L179.5 340.7 L180.0 342.1 L180.5 342.7 L181.0 343.9 L181.5 342.5 L182.0 343.1 L182.5 344.3 L183.0 344.6 L183.5 346.4 L184.0 345.8 L184.5 346.8 L185.0 351.0 L185.5 351.8 L186.0 354.9 L186.5 358.7 L187.0 362.5 L187.5 361.5 L188.0 365.0 L188.5 368.6 L189.0 362.8 L189.5 364.6 L190.0 368.1 L190.5 370.4 L191.0 372.1 L191.5 365.0 L192.0 369.4 L192.5 372.5 L193.0 365.1 L193.5 369.6 L194.0 366.6 L194.5 373.1 L195.0 373.9 L195.5 372.1 L196.0 365.8 L196.5 366.0 L197.0 369.2 L197.5 373.4 L198.0 366.5 L198.5 368.9 L199.0 368.2 L199.5 366.0 L200.0 368.1 L200.5 364.8 L201.0 365.7 L201.5 369.7 L202.0 367.9 L202.5 369.4 L203.0 368.8 L203.5 364.0 L204.0 366.3 L204.5 370.2 L205.0 367.9 L205.5 372.6 L206.0 363.0 L206.5 364.8 L207.0 368.7 L207.5 367.6 L208.0 365.9 L208.5 368.6 L209.0 370.6 L209.5 372.0 L210.0 371.2 L210.5 373.0 L211.0 375.0 L211.5 370.4 L212.0 374.5 L212.5 375.7 L213.0 377.3 L213.5 375.9 L214.0 374.1 L214.5 378.6 L215.0 383.2 L215.5 381.8 L216.0 382.2 L216.5 382.0 L217.0 381.1 L217.5 384.4 L218.0 380.9 L218.5 387.3 L219.0 386.2 L219.5 387.2 L220.0 380.5 L220.5 379.7 L221.0 388.0 L221.5 383.1 L222.0 381.8 L222.5 382.4 L223.0 384.3 L223.5 381.2 L224.0 384.9 L224.5 385.4 L225.0 388.3 L225.5 380.2 L226.0 386.1 L226.5 383.6 L227.0 382.8 L227.5 384.1 L228.0 382.4 L228.5 387.6 L229.0 382.2 L229.5 385.7 L230.0 381.7 L230.5 384.9 L231.0 385.7 L231.5 385.8 L232.0 380.1 L232.5 386.2 L233.0 389.0 L233.5 384.0 L234.0 386.6 L234.5 388.0 L235.0 388.9 L235.5 387.0 L236.0 388.0 L236.5 389.1 L237.0 386.8 L237.5 387.6 L238.0 387.9 L238.5 388.3 L239.0 386.9 L239.5 384.1 L240.0 384.9 L240.5 389.2 L241.0 381.6 L241.5 380.0 L242.0 379.5 L242.5 387.1 L243.0 387.6 L243.5 382.2 L244.0 383.0 L244.5 379.8 L245.0 382.5 L245.5 381.3 L246.0 383.7 L246.5 380.6 L247.0 386.0 L247.5 382.1 L248.0 385.6 L248.5 386.2 L249.0 388.1 L249.5 384.2 L250.0 386.5 L250.5 385.3 L251.0 382.6 L251.5 385.2 L252.0 388.0 L252.5 386.4 L253.0 378.5 L253.5 383.7 L254.0 378.9 L254.5 378.0 L255.0 378.8 L255.5 386.2 L256.0 388.1 L256.5 385.8 L257.0 386.7 L257.5 387.5 L258.0 390.4 L258.5 390.2 L259.0 385.1 L259.5 385.5 L260.0 392.3 L260.5 387.9 L261.0 391.0 L261.5 390.3 L262.0 389.3 L262.5 388.5 L263.0 387.8 L263.5 385.9 L264.0 385.7 L264.5 390.4 L265.0 384.0 L265.5 389.5 L266.0 390.8 L266.5 386.2 L267.0 384.7 L267.5 388.4 L268.0 388.6 L268.5 391.0 L269.0 391.1 L269.5 395.3 L270.0 387.5 L270.5 395.3 L271.0 388.7 L271.5 396.1 L272.0 390.1 L272.5 394.2 L273.0 387.5 L273.5 391.4 L274.0 395.2 L274.5 394.1 L275.0 396.5 L275.5 391.5 L276.0 392.3 L276.5 394.8 L277.0 391.6 L277.5 397.0 L278.0 393.5 L278.5 392.4 L279.0 392.1 L279.5 395.5 L280.0 390.8 L280.5 391.4 L281.0 394.9 L281.5 393.9 L282.0 399.0 L282.5 399.2 L283.0 402.1 L283.5 400.3 L284.0 397.4 L284.5 397.5 L285.0 396.8 L285.5 397.5 L286.0 400.7 L286.5 401.2 L287.0 396.6 L287.5 396.1 L288.0 399.5 L288.5 399.6 L289.0 391.4 L289.5 391.9 L290.0 399.0 L290.5 396.0 L291.0 396.2 L291.5 397.8 L292.0 399.2 L292.5 394.0 L293.0 403.1 L293.5 404.0 L294.0 399.4 L294.5 400.3 L295.0 400.0 L295.5 403.6 L296.0 400.7 L296.5 403.2 L297.0 405.5 L297.5 402.5 L298.0 405.3 L298.5 399.2 L299.0 406.9 L299.5 401.4 L300.0 403.6 L300.5 406.3 L301.0 403.5 L301.5 403.7 L302.0 402.2 L302.5 409.1 L303.0 403.0 L303.5 404.1 L304.0 411.8 L304.5 411.3 L305.0 408.1 L305.5 405.6 L306.0 411.6 L306.5 410.5 L307.0 411.2 L307.5 410.1 L308.0 411.1 L308.5 413.5 L309.0 411.0 L309.5 406.5 L310.0 407.8 L310.5 411.6 L311.0 412.1 L311.5 412.5 L312.0 414.0 L312.5 410.0 L313.0 410.8 L313.5 409.0 L314.0 409.1 L314.5 406.6 L315.0 412.1 L315.5 407.5 L316.0 408.2 L316.5 412.5 L317.0 409.4 L317.5 409.3 L318.0 413.1 L318.5 411.0 L319.0 405.2 L319.5 406.6 L320.0 409.0 L320.5 411.0 L321.0 407.7 L321.5 409.5 L322.0 411.1 L322.5 413.6 L323.0 407.4 L323.5 412.2 L324.0 407.6 L324.5 407.7 L325.0 406.5 L325.5 406.8 L326.0 413.4 L326.5 410.1 L327.0 412.1 L327.5 411.4 L328.0 411.5 L328.5 409.8 L329.0 411.9 L329.5 418.4 L330.0 414.9 L330.5 414.5 L331.0 413.4 L331.5 418.4 L332.0 417.1 L332.5 413.5 L333.0 414.1 L333.5 411.7 L334.0 412.9 L334.5 414.4 L335.0 413.8 L335.5 415.3 L336.0 417.8 L336.5 411.3 L337.0 414.1 L337.5 411.1 L338.0 416.0 L338.5 418.8 L339.0 419.2 L339.5 419.0 L340.0 415.7 L340.5 421.9 L341.0 420.6 L341.5 416.8 L342.0 420.5 L342.5 412.3 L343.0 413.2 L343.5 418.8 L344.0 411.4 L344.5 412.4 L345.0 413.9 L345.5 416.0 L346.0 415.3 L346.5 410.6 L347.0 412.2 L347.5 416.6 L348.0 413.5 L348.5 412.8 L349.0 410.6 L349.5 412.7 L350.0 417.6 L350.5 408.9 L351.0 413.1 L351.5 418.4 L352.0 416.9 L352.5 412.7 L353.0 416.0 L353.5 410.7 L354.0 413.7 L354.5 412.4 L355.0 415.5 L355.5 417.7 L356.0 415.3 L356.5 412.6 L357.0 416.6 L357.5 418.5 L358.0 412.5 L358.5 415.9 L359.0 412.0 L359.5 411.9 L360.0 417.7 L360.5 412.7 L361.0 415.7 L361.5 412.4 L362.0 417.2 L362.5 417.8 L363.0 420.3 L363.5 416.9 L364.0 416.8 L364.5 418.1 L365.0 421.5 L365.5 421.1 L366.0 417.1 L366.5 419.4 L367.0 416.5 L367.5 417.5 L368.0 420.5 L368.5 421.7 L369.0 421.9 L369.5 413.9 L370.0 416.9 L370.5 422.5 L371.0 419.5 L371.5 416.9 L372.0 421.9 L372.5 421.9 L373.0 417.1 L373.5 420.3 L374.0 416.8 L374.5 417.0 L375.0 419.6 L375.5 416.7 L376.0 422.0 L376.5 418.4 L377.0 417.2 L377.5 420.8 L378.0 418.7 L378.5 416.9 L379.0 427.3 L379.5 421.7 L380.0 421.8 L380.5 424.5 L381.0 418.9 L381.5 424.0 L382.0 417.2 L382.5 417.8 L383.0 425.9 L383.5 421.5 L384.0 421.8 L384.5 421.3 L385.0 419.1 L385.5 411.1 L386.0 415.1 L386.5 408.3 L387.0 406.6 L387.5 413.8 L388.0 407.9 L388.5 411.2 L389.0 409.4 L389.5 412.8 L390.0 409.1 L390.5 413.8 L391.0 410.8 L391.5 413.8 L392.0 413.8 L392.5 411.4 L393.0 411.6 L393.5 412.2 L394.0 414.9 L394.5 410.6 L395.0 413.3 L395.5 413.9 L396.0 410.6 L396.5 411.3 L397.0 410.0 L397.5 416.6 L398.0 417.0 L398.5 417.1 L399.0 415.8 L399.5 412.4 L400.0 408.9 L400.5 413.4 L401.0 409.0 L401.5 409.8 L402.0 405.1 L402.5 408.7 L403.0 403.2 L403.5 410.5 L404.0 409.4 L404.5 408.9 L405.0 410.5 L405.5 407.0 L406.0 410.3 L406.5 406.7 L407.0 410.7 L407.5 411.7 L408.0 411.8 L408.5 415.6 L409.0 413.4 L409.5 415.2 L410.0 417.8 L410.5 424.5 L411.0 420.6 L411.5 416.9 L412.0 415.2 L412.5 412.7 L413.0 413.9 L413.5 415.9 L414.0 415.6 L414.5 412.8 L415.0 415.4 L415.5 415.4 L416.0 415.8 L416.5 412.9 L417.0 411.0 L417.5 408.9 L418.0 412.2 L418.5 407.7 L419.0 410.2 L419.5 407.5 L420.0 411.6 L420.5 408.7 L421.0 406.8 L421.5 411.2 L422.0 412.5 L422.5 412.4 L423.0 411.3 L423.5 413.2 L424.0 412.6 L424.5 410.9 L425.0 416.8 L425.5 418.2 L426.0 416.5 L426.5 418.3 L427.0 420.3 L427.5 414.3 L428.0 417.4 L428.5 419.4 L429.0 422.3 L429.5 420.8 L430.0 419.8 L430.5 415.5 L431.0 416.7 L431.5 415.2 L432.0 419.9 L432.5 418.8 L433.0 414.4 L433.5 418.8 L434.0 413.1 L434.5 409.7 L435.0 413.3 L435.5 416.6 L436.0 417.9 L436.5 414.3 L437.0 410.1 L437.5 415.2 L438.0 411.0 L438.5 418.1 L439.0 414.0 L439.5 412.0 L440.0 411.0 L440.5 414.2 L441.0 417.5 L441.5 410.4 L442.0 417.7 L442.5 416.3 L443.0 412.7 L443.5 409.4 L444.0 410.6 L444.5 413.1 L445.0 411.7 L445.5 410.4 L446.0 411.8 L446.5 417.2 L447.0 410.1 L447.5 419.8 L448.0 416.6 L448.5 419.7 L449.0 420.1 L449.5 424.7 L450.0 419.4 L450.5 418.9 L451.0 421.5 L451.5 420.0 L452.0 417.8 L452.5 416.7 L453.0 415.4 L453.5 417.1 L454.0 418.4 L454.5 417.8 L455.0 413.7 L455.5 417.7 L456.0 415.2 L456.5 409.9 L457.0 408.6 L457.5 415.1 L458.0 414.9 L458.5 413.7 L459.0 417.5 L459.5 412.1 L460.0 412.4 L460.5 408.3 L461.0 410.6 L461.5 417.0 L462.0 411.1 L462.5 410.8 L463.0 411.1 L463.5 415.5 L464.0 415.8 L464.5 417.4 L465.0 420.7 L465.5 421.9 L466.0 421.7 L466.5 424.6 L467.0 423.6 L467.5 419.9 L468.0 420.5 L468.5 425.4 L469.0 421.5 L469.5 422.8 L470.0 424.8 L470.5 423.6 L471.0 420.0 L471.5 418.2 L472.0 416.9 L472.5 419.3 L473.0 419.5 L473.5 414.7 L474.0 416.2 L474.5 413.1 L475.0 416.3 L475.5 415.4 L476.0 421.3 L476.5 416.2 L477.0 418.1 L477.5 419.6 L478.0 422.6 L478.5 419.3 L479.0 418.9 L479.5 415.7 L480.0 408.8 L480.5 411.9 L481.0 416.4 L481.5 411.6 L482.0 412.4 L482.5 408.3 L483.0 415.2 L483.5 413.0 L484.0 418.9 L484.5 410.8 L485.0 413.8 L485.5 418.1 L486.0 415.0 L486.5 416.2 L487.0 416.1 L487.5 414.1 L488.0 415.8 L488.5 420.4 L489.0 419.8 L489.5 416.3 L490.0 418.5 L490.5 420.8 L491.0 419.9 L491.5 411.3 L492.0 410.9 L492.5 417.5 L493.0 411.1 L493.5 414.2 L494.0 412.4 L494.5 413.9 L495.0 406.4 L495.5 414.7 L496.0 414.2 L496.5 407.2 L497.0 412.2 L497.5 406.3 L498.0 412.6 L498.5 408.4 L499.0 410.9 L499.5 409.9 L500.0 405.1 L500.5 413.3 L501.0 408.9 L501.5 408.5 L502.0 409.8 L502.5 408.1 L503.0 412.7 L503.5 408.7 L504.0 411.1 L504.5 412.8 L505.0 414.0 L505.5 410.5 L506.0 409.9 L506.5 412.1 L507.0 414.1 L507.5 413.3 L508.0 410.5 L508.5 409.2 L509.0 408.2 L509.5 412.2 L510.0 408.7 L510.5 405.1 L511.0 409.6 L511.5 410.0 L512.0 412.6 L512.5 411.1 L513.0 410.3 L513.5 411.7 L514.0 414.2 L514.5 414.4 L515.0 419.7 L515.5 412.8 L516.0 412.4 L516.5 418.3 L517.0 417.2 L517.5 418.3 L518.0 420.1 L518.5 417.4 L519.0 419.8 L519.5 418.0 L520.0 416.5 L520.5 415.8 L521.0 420.8 L521.5 413.0 L522.0 414.2 L522.5 412.1 L523.0 413.7 L523.5 408.1 L524.0 413.7 L524.5 407.3 L525.0 411.5 L525.5 409.9 L526.0 412.0 L526.5 414.4 L527.0 415.3 L527.5 410.5 L528.0 412.2 L528.5 417.9 L529.0 414.3 L529.5 417.8 L530.0 414.8 L530.5 414.1 L531.0 412.0 L531.5 412.8 L532.0 402.7 L532.5 403.5 L533.0 401.0 L533.5 400.6 L534.0 399.6 L534.5 406.8 L535.0 398.9 L535.5 402.7 L536.0 408.5 L536.5 404.4 L537.0 403.1 L537.5 405.4 L538.0 406.7 L538.5 405.8 L539.0 407.5 L539.5 408.3 L540.0 405.0 L540.5 410.8 L541.0 411.5 L541.5 407.6 L542.0 404.0 L542.5 410.0 L543.0 408.1 L543.5 406.7 L544.0 406.4 L544.5 413.5 L545.0 410.9 L545.5 407.2 L546.0 406.0 L546.5 405.2 L547.0 405.8 L547.5 407.0 L548.0 409.6 L548.5 402.7 L549.0 408.0 L549.5 407.0 L550.0 401.2 L550.5 408.7 L551.0 408.1 L551.5 406.3 L552.0 404.0 L552.5 406.6 L553.0 410.2 L553.5 408.5 L554.0 405.9 L554.5 412.1 L555.0 408.1 L555.5 405.2 L556.0 405.1 L556.5 402.4 L557.0 402.8 L557.5 398.3 L558.0 406.6 L558.5 399.9 L559.0 399.3 L559.5 399.8 L560.0 400.1 L560.5 401.2 L561.0 405.4 L561.5 399.8 L562.0 406.5 L562.5 401.9 L563.0 407.3 L563.5 402.3 L564.0 397.7 L564.5 405.0 L565.0 403.1 L565.5 405.2 L566.0 405.7 L566.5 400.6 L567.0 399.3 L567.5 403.2 L568.0 404.2 L568.5 402.3 L569.0 400.9 L569.5 400.6 L570.0 402.0 L570.5 399.1 L571.0 407.3 L571.5 407.7 L572.0 404.1 L572.5 408.0 L573.0 410.5 L573.5 410.2 L574.0 404.3 L574.5 403.1 L575.0 403.7 L575.5 400.4 L576.0 401.4 L576.5 399.6 L577.0 397.3 L577.5 397.9 L578.0 394.8 L578.5 394.3 L579.0 391.7 L579.5 402.6 L580.0 400.0 L580.5 403.3 L581.0 403.9 L581.5 396.1 L582.0 400.8 L582.5 399.6 L583.0 403.4 L583.5 397.4 L584.0 401.4 L584.5 402.5 L585.0 400.4 L585.5 398.0 L586.0 403.4 L586.5 397.4 L587.0 400.3 L587.5 395.8 L588.0 398.9 L588.5 398.3 L589.0 402.3 L589.5 403.1 L590.0 404.6 L590.5 403.8 L591.0 406.9 L591.5 405.2 L592.0 405.4 L592.5 406.7 L593.0 408.9 L593.5 406.3 L594.0 410.5 L594.5 408.1 L595.0 405.7 L595.5 406.4 L596.0 407.7 L596.5 403.9 L597.0 409.2 L597.5 404.8 L598.0 406.4 L598.5 408.2 L599.0 408.7 L599.5 407.7 L600.0 406.5 L600.5 407.3 L601.0 405.9 L601.5 404.3 L602.0 406.7 L602.5 401.3 L603.0 401.0 L603.5 403.4 L604.0 402.7 L604.5 408.9 L605.0 406.2 L605.5 409.3 L606.0 406.6 L606.5 404.0 L607.0 409.8 L607.5 410.1 L608.0 403.0 L608.5 409.1 L609.0 408.2 L609.5 403.7 L610.0 405.6 L610.5 408.7 L611.0 404.0 L611.5 406.8 L612.0 407.8 L612.5 407.6 L613.0 404.2 L613.5 411.6 L614.0 407.8 L614.5 410.0 L615.0 409.4 L615.5 407.3 L616.0 410.5 L616.5 406.4 L617.0 411.6 L617.5 407.8 L618.0 404.6 L618.5 407.6 L619.0 406.1 L619.5 411.1 L620.0 406.4 L620.5 412.4 L621.0 405.7 L621.5 406.7 L622.0 409.2 L622.5 410.8 L623.0 409.4 L623.5 408.7 L624.0 407.3 L624.5 412.1 L625.0 406.5 L625.5 412.1 L626.0 408.3 L626.5 411.0 L627.0 411.8 L627.5 408.7 L628.0 405.5 L628.5 405.5 L629.0 404.7 L629.5 402.6 L630.0 405.2 L630.5 406.9 L631.0 405.1 L631.5 407.1 L632.0 407.7 L632.5 405.4 L633.0 406.9 L633.5 401.5 L634.0 404.1 L634.5 397.9 L635.0 395.9 L635.5 398.3 L636.0 401.2 L636.5 403.9 L637.0 399.6 L637.5 402.4 L638.0 404.4 L638.5 405.6 L639.0 404.0 L639.5 401.1 L640.0 398.7 L640.5 400.6 L641.0 404.0 L641.5 404.6 L642.0 402.5 L642.5 399.8 L643.0 398.4 L643.5 398.4 L644.0 400.6 L644.5 402.5 L645.0 400.6 L645.5 403.2 L646.0 400.6 L646.5 405.8 L647.0 402.2 L647.5 405.2 L648.0 401.1 L648.5 402.9 L649.0 406.3 L649.5 399.0 L650.0 407.7 L650.5 403.6 L651.0 408.6 L651.5 402.2 L652.0 403.5 L652.5 404.8 L653.0 406.7 L653.5 406.8 L654.0 408.7 L654.5 402.9 L655.0 407.4 L655.5 405.5 L656.0 411.2 L656.5 411.9 L657.0 407.1 L657.5 406.8" stroke="#00f" stroke-width="3.8" fill="none" stroke-linejoin="round"/>
</g>
<path d="M110.7 1.1 H658.6 V443.2 M658.6 419.8 H650.3 M658.6 306.6 H650.3 M658.6 193.4 H650.3 M658.6 80.2 H650.3 M658.6 363.2 H654.4 M658.6 250.0 H654.4 M658.6 136.8 H654.4 M658.6 23.6 H654.4" stroke="#000" stroke-width="2.2" fill="none"/>
<text transform="translate(86.48 451.9) scale(1 1.05)" font-size="29" text-anchor="start">0</text>
<polygon points="65.13,332.80 65.13,312.09 63.01,312.09 56.92,317.00 57.42,319.90 62.03,316.39 62.03,332.80" fill="#000"/>
<text transform="translate(70.35 332.8) scale(1 1.05)" font-size="29" text-anchor="start">0</text>
<text transform="translate(86.48 332.8) scale(1 1.05)" font-size="29" text-anchor="start">0</text>
<text transform="translate(54.23 213.7) scale(1 1.05)" font-size="29" text-anchor="start">2</text>
<text transform="translate(70.35 213.7) scale(1 1.05)" font-size="29" text-anchor="start">0</text>
<text transform="translate(86.48 213.7) scale(1 1.05)" font-size="29" text-anchor="start">0</text>
<text transform="translate(54.23 94.6) scale(1 1.05)" font-size="29" text-anchor="start">3</text>
<text transform="translate(70.35 94.6) scale(1 1.05)" font-size="29" text-anchor="start">0</text>
<text transform="translate(86.48 94.6) scale(1 1.05)" font-size="29" text-anchor="start">0</text>
<text transform="translate(104.94 475.4) scale(1 1.05)" font-size="29" text-anchor="start">0</text>
<polygon points="244.18,475.40 244.18,454.69 242.06,454.69 235.97,459.59 236.47,462.50 241.08,458.99 241.08,475.40" fill="#000"/>
<text transform="translate(249.4 475.4) scale(1 1.05)" font-size="29" text-anchor="start">0</text>
<text transform="translate(369.68 475.4) scale(1 1.05)" font-size="29" text-anchor="start">2</text>
<text transform="translate(385.8 475.4) scale(1 1.05)" font-size="29" text-anchor="start">0</text>
<text transform="translate(506.08 475.4) scale(1 1.05)" font-size="29" text-anchor="start">3</text>
<text transform="translate(522.2 475.4) scale(1 1.05)" font-size="29" text-anchor="start">0</text>
<text transform="translate(642.48 475.4) scale(1 1.05)" font-size="29" text-anchor="start">4</text>
<text transform="translate(658.6 475.4) scale(1 1.05)" font-size="29" text-anchor="start">0</text>
<text transform="translate(667.8 429.3) scale(1 1.05)" font-size="29" text-anchor="start">4</text>
<text transform="translate(667.8 316.1) scale(1 1.05)" font-size="29" text-anchor="start">5</text>
<text transform="translate(667.8 202.9) scale(1 1.05)" font-size="29" text-anchor="start">6</text>
<text transform="translate(667.8 89.7) scale(1 1.05)" font-size="29" text-anchor="start">7</text>
<text transform="translate(165.5 23.8) scale(1 1.02)" font-size="27"><tspan font-style="italic">N</tspan><tspan font-size="18.5" dx="0" dy="7.9">cont</tspan></text>
<text transform="translate(165.5 63.6) scale(1 1.02)" font-size="27" text-anchor="start">&lt; 0.6 nm</text>
<text transform="translate(506.8 99.0) scale(1 1.02)" font-size="27"><tspan font-style="italic">N</tspan><tspan font-size="18.5" dx="0" dy="7.9">cont</tspan></text>
<text transform="translate(506.8 137.8) scale(1 1.02)" font-size="27" text-anchor="start">&lt; 0.5 nm</text>
<text transform="translate(291 383.7) scale(1 1.02)" font-size="27"><tspan font-style="italic">R</tspan><tspan font-size="18.5" dx="0" dy="7.9">com,z</tspan></text>
<text transform="translate(23.3 233.5) rotate(-90) scale(1 1.04)" font-size="26.5"><tspan font-style="italic">N</tspan><tspan font-size="18" dx="-1.3" dy="8.5">cont</tspan></text>
<text transform="translate(726 255.5) rotate(-90) scale(1 1.04)" font-size="26.5"><tspan font-style="italic">R</tspan><tspan font-size="18" dx="0" dy="7.3">com,z</tspan><tspan dy="-7.3">/nm</tspan></text>
<text transform="translate(385.2 519.0) scale(1 1.04)" font-size="26.5" text-anchor="middle"><tspan font-style="italic">t</tspan>/ns</text>
</svg></body></html>
